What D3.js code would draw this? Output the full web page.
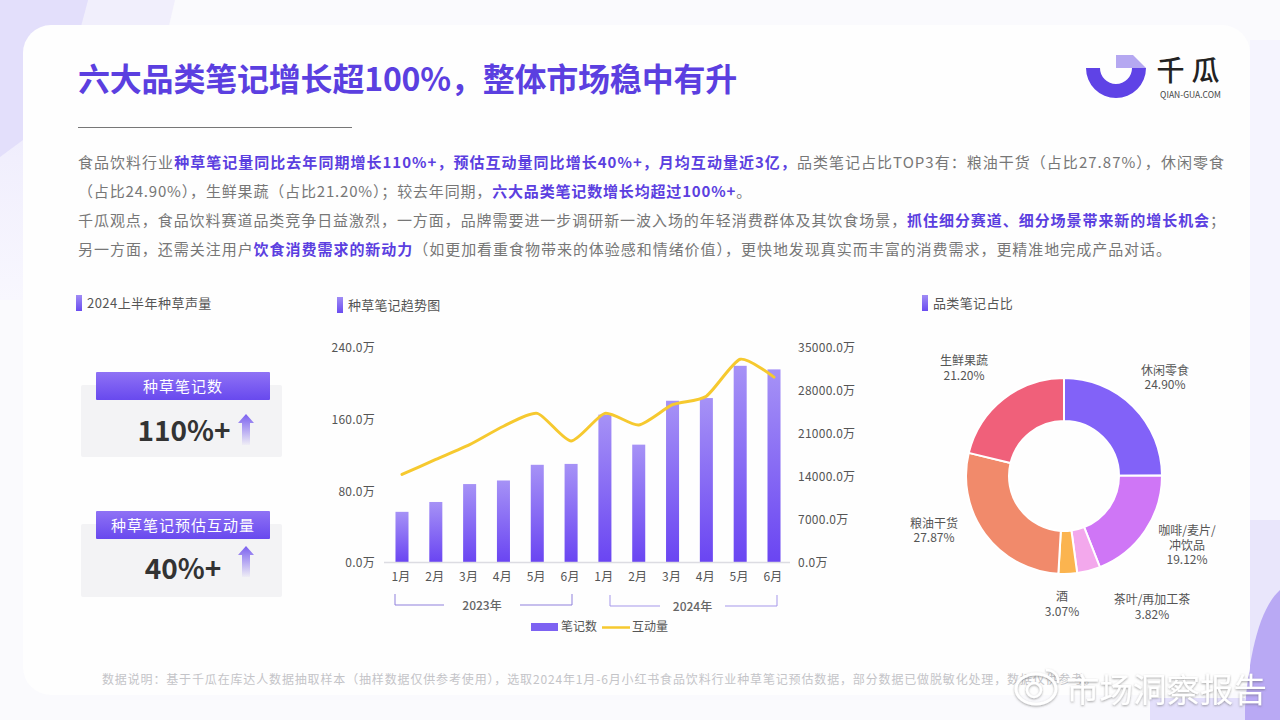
<!DOCTYPE html>
<html>
<head>
<meta charset="utf-8">
<script src="https://cdn.jsdelivr.net/npm/d3@7"></script>
<style>
  html, body { margin: 0; padding: 0; background: #fff; }
  svg { display: block; }
  text { font-family: "Noto Sans CJK SC", "Noto Sans", sans-serif; }
</style>
</head>
<body>
<script>
// chart data
var MONTHS = ['1月', '2月', '3月', '4月', '5月', '6月', '1月', '2月', '3月', '4月', '5月', '6月'];
var NOTES = [56, 67, 87, 91, 108.5, 109.5, 164.5, 131, 180, 183, 219, 215];
var ENGAGEMENT = [14250, 16700, 19100, 22100, 24200, 19700, 24200, 22300, 25600, 27000, 33000, 30100];
var LEFT_TICKS = [0, 80, 160, 240];
var RIGHT_TICKS = [0, 7000, 14000, 21000, 28000, 35000];
var YEARS = ['2023年', '2024年'];

var CATEGORIES = ['休闲零食', '咖啡/麦片/\n冲饮品', '茶叶/再加工茶', '酒', '粮油干货', '生鲜果蔬'];
var SHARES = [24.90, 19.12, 3.82, 3.07, 27.87, 21.20];
var SHARE_COLORS = ['#8262f8', '#cf76f6', '#f3a8ec', '#fbb44f', '#f18a6b', '#f0607a'];

var TITLE = '六大品类笔记增长超100%，整体市场稳中有升';
var BODY = [
  ['食品饮料行业', '*种草笔记量同比去年同期增长110%+，预估互动量同比增长40%+，月均互动量近3亿，', '品类笔记占比TOP3有：粮油干货（占比27.87%），休闲零食'],
  ['（占比24.90%），生鲜果蔬（占比21.20%）；较去年同期，', '*六大品类笔记数增长均超过100%+', '。'],
  ['千瓜观点，食品饮料赛道品类竞争日益激烈，一方面，品牌需要进一步调研新一波入场的年轻消费群体及其饮食场景，', '*抓住细分赛道、细分场景带来新的增长机会', '；'],
  ['另一方面，还需关注用户', '*饮食消费需求的新动力', '（如更加看重食物带来的体验感和情绪价值），更快地发现真实而丰富的消费需求，更精准地完成产品对话。']
];
var BODY_ENDS = [1225, 752, 1226, 1172];
var NOTE = '数据说明：基于千瓜在库达人数据抽取样本（抽样数据仅供参考使用），选取2024年1月-6月小红书食品饮料行业种草笔记预估数据，部分数据已做脱敏化处理，数据仅供参考。';
var KPI_NAMES = ['种草笔记数', '种草笔记预估互动量'];
var KPI_VALUES = ['110%+', '40%+'];

var PURPLE = '#5b3fe0';
var svg = d3.select('body').append('svg').attr('width', 1280).attr('height', 720);
var defs = svg.append('defs');

function vGrad(id, top, bottom, topOpacity, bottomOpacity) {
  var g = defs.append('linearGradient').attr('id', id)
    .attr('x1', 0).attr('y1', 0).attr('x2', 0).attr('y2', 1);
  g.append('stop').attr('offset', 0).attr('stop-color', top).attr('stop-opacity', topOpacity === undefined ? 1 : topOpacity);
  g.append('stop').attr('offset', 1).attr('stop-color', bottom).attr('stop-opacity', bottomOpacity === undefined ? 1 : bottomOpacity);
}
vGrad('barFill', '#a692f6', '#6a45f2');
vGrad('headFill', '#8f72f5', '#6849ee');
vGrad('markFill', '#a08cf5', '#6a4cf0');
vGrad('arrowFill', '#7a5ff0', '#7a5ff0', 1, 0.04);
vGrad('leftFade', '#e9e6fc', '#f8f7fe');

var shadow = defs.append('filter').attr('id', 'wm').attr('x', '-10%').attr('y', '-30%').attr('width', '120%').attr('height', '160%');
shadow.append('feDropShadow').attr('dx', 0).attr('dy', 1).attr('stdDeviation', 1.2)
  .attr('flood-color', '#555').attr('flood-opacity', 0.55);

// page background
svg.append('rect').attr('width', 1280).attr('height', 720).attr('fill', '#fafafd');
svg.append('path').attr('d', 'M0 0H175L168 30H0Z').attr('fill', '#f1effc');
svg.append('path').attr('d', 'M0 0H88L80 30L23 60V300H0Z').attr('fill', 'url(#leftFade)');
svg.append('path').attr('d', 'M0 0H88L80 30L40 110L23 140L0 157Z').attr('fill', '#e3dffb');
svg.append('rect').attr('x', 1250).attr('y', 40).attr('width', 30).attr('height', 480).attr('fill', '#f5f4fe');
svg.append('rect').attr('x', 1250).attr('y', 520).attr('width', 30).attr('height', 200).attr('fill', '#e9e6fb');
svg.append('path').attr('d', 'M1280 590C1258 610 1248 660 1244 720H1280Z').attr('fill', '#b9a9f4');
svg.append('rect').attr('x', 1150).attr('y', 698).attr('width', 95).attr('height', 22).attr('fill', '#e3dffb');

// card
svg.append('rect').attr('x', 23).attr('y', 25).attr('width', 1227).attr('height', 670).attr('rx', 28)
  .attr('fill', '#fefefe');

// header
svg.append('text').attr('x', 78).attr('y', 90.5).attr('font-size', 32).attr('font-weight', 700)
  .attr('letter-spacing', -0.2).attr('fill', PURPLE).text(TITLE);
svg.append('line').attr('x1', 78).attr('x2', 352).attr('y1', 127.5).attr('y2', 127.5)
  .attr('stroke', '#777').attr('stroke-width', 1);

// logo
var logo = svg.append('g').attr('transform', 'translate(1116,68)');
logo.append('path').attr('fill', '#b5a8f1').attr('d', 'M0 -13H17L30 0H0Z');
logo.append('path').attr('fill', '#5f43e6').attr('d', d3.arc()({
  innerRadius: 16, outerRadius: 30, startAngle: Math.PI / 2, endAngle: Math.PI * 1.5
}));
svg.append('text').attr('x', 1191.5).attr('y', 81).attr('text-anchor', 'middle').attr('font-size', 28)
  .attr('font-weight', 500).attr('letter-spacing', 7).attr('fill', '#222').text('千瓜');
svg.append('text').attr('x', 1190.5).attr('y', 98).attr('text-anchor', 'middle').attr('font-size', 8.5)
  .attr('fill', '#444').text('QIAN-GUA.COM');

// body copy, letter spacing is fitted so each line ends where the reference does
BODY.forEach(function(parts, i) {
  var t = svg.append('text').attr('x', 78).attr('y', 167.5 + i * 29).attr('font-size', 15).attr('fill', '#777');
  parts.forEach(function(p) {
    var bold = p.charAt(0) === '*';
    t.append('tspan').attr('font-weight', bold ? 700 : 400).attr('fill', bold ? PURPLE : '#777')
      .text(bold ? p.slice(1) : p);
  });
  var n = parts.join('').replace(/\*/g, '').length;
  var len = t.node().getComputedTextLength();
  t.attr('letter-spacing', (BODY_ENDS[i] - 78 - len) / n);
});

// section titles
function section(x, y, label, spacing) {
  svg.append('rect').attr('x', x).attr('y', y - 8).attr('width', 6).attr('height', 16).attr('fill', 'url(#markFill)');
  svg.append('text').attr('x', x + 11).attr('y', y + 4.5).attr('font-size', 13).attr('letter-spacing', spacing)
    .attr('fill', '#555').text(label);
}
section(76, 303, '2024上半年种草声量', 0.45);
section(337, 305, '种草笔记趋势图', 0.2);
section(922, 303, '品类笔记占比', 0.35);

// kpi cards
var kpiTop = [372, 511];
var kpiBoxH = [72, 73];
KPI_NAMES.forEach(function(name, i) {
  var top = kpiTop[i];
  svg.append('rect').attr('x', 81).attr('y', top + 13).attr('width', 201).attr('height', kpiBoxH[i]).attr('rx', 2).attr('fill', '#f3f3f5');
  svg.append('rect').attr('x', 96).attr('y', top).attr('width', 174).attr('height', 28).attr('rx', 1).attr('fill', 'url(#headFill)');
  svg.append('text').attr('x', 183).attr('y', top + 19.5).attr('text-anchor', 'middle').attr('font-size', 15)
    .attr('letter-spacing', 1).attr('fill', '#fff').text(name);
  svg.append('text').attr('x', i ? 183 : 184).attr('y', top + (i ? 67.5 : 68.5)).attr('text-anchor', 'middle')
    .attr('font-family', '"Noto Sans"').attr('font-size', 28).attr('font-weight', 600).attr('fill', '#333').text(KPI_VALUES[i]);
  var ay = top + (i ? 35 : 42);
  svg.append('path').attr('transform', 'translate(246,' + ay + ')')
    .attr('d', 'M0 0L8 9H4V31H-4V9H-8Z').attr('fill', 'url(#arrowFill)');
});

// combo chart
var x = d3.scaleBand().domain(d3.range(MONTHS.length)).range([385, 791]).paddingInner(0.615).paddingOuter(0.31);
var yLeft = d3.scaleLinear().domain([0, 240]).range([562, 347]);
var yRight = d3.scaleLinear().domain([0, 35000]).range([562, 347]);
var midX = function(i) { return x(i) + x.bandwidth() / 2; };

svg.append('g').selectAll('rect').data(NOTES).join('rect')
  .attr('x', function(d, i) { return x(i); })
  .attr('y', function(d) { return yLeft(d); })
  .attr('width', x.bandwidth())
  .attr('height', function(d) { return yLeft(0) - yLeft(d); })
  .attr('fill', 'url(#barFill)');

svg.append('line').attr('x1', 384).attr('x2', 790).attr('y1', 562.5).attr('y2', 562.5)
  .attr('stroke', '#dcdce2').attr('stroke-width', 1.5);

function styleAxis(g) {
  g.select('.domain').remove();
  g.selectAll('.tick line').remove();
  g.selectAll('text').attr('font-size', 12).attr('fill', '#555').attr('letter-spacing', 0.25)
    .attr('font-family', '"Noto Sans CJK SC", "Noto Sans", sans-serif');
}
var fmtWan = function(d) { return d3.format('.1f')(d) + '万'; };
svg.append('g').attr('transform', 'translate(384,1)')
  .call(d3.axisLeft(yLeft).tickValues(LEFT_TICKS).tickFormat(fmtWan).tickSize(0).tickPadding(9)).call(styleAxis);
svg.append('g').attr('transform', 'translate(790,1)')
  .call(d3.axisRight(yRight).tickValues(RIGHT_TICKS).tickFormat(fmtWan).tickSize(0).tickPadding(8)).call(styleAxis);
svg.append('g').attr('transform', 'translate(-1,562)')
  .call(d3.axisBottom(x).tickFormat(function(i) { return MONTHS[i]; }).tickSize(0).tickPadding(10)).call(styleAxis);

svg.append('path').datum(ENGAGEMENT)
  .attr('fill', 'none').attr('stroke', '#f6c92f').attr('stroke-width', 3).attr('stroke-linecap', 'round')
  .attr('d', d3.line().x(function(d, i) { return midX(i); }).y(function(d) { return yRight(d); })
    .curve(d3.curveCardinal.tension(0.35)));

// year brackets under the months
var bracket = [[395, 444, 520, 572, 594], [610, 660, 725, 777, 595]];
bracket.forEach(function(b, i) {
  var floor = b[4] + 11;
  svg.append('path').attr('fill', 'none').attr('stroke', i ? '#a597ea' : '#8f80dc').attr('stroke-width', 1)
    .attr('d', 'M' + b[0] + ' ' + b[4] + 'V' + floor + 'H' + b[1] + 'M' + b[2] + ' ' + floor + 'H' + b[3] + 'V' + b[4]);
  svg.append('text').attr('x', (b[1] + b[2]) / 2).attr('y', floor + 5).attr('text-anchor', 'middle')
    .attr('font-size', 12).attr('font-weight', 500).attr('fill', '#666').text(YEARS[i]);
});

// legend
svg.append('rect').attr('x', 531).attr('y', 623).attr('width', 27).attr('height', 8).attr('fill', '#7d62f2');
svg.append('text').attr('x', 561).attr('y', 631).attr('font-size', 12).attr('fill', '#555').text('笔记数');
svg.append('line').attr('x1', 602).attr('x2', 630).attr('y1', 627.5).attr('y2', 627.5).attr('stroke', '#f6c92f').attr('stroke-width', 2.5);
svg.append('text').attr('x', 632).attr('y', 631).attr('font-size', 12).attr('fill', '#555').text('互动量');

// donut
var pie = d3.pie().sort(null)(SHARES);
var arc = d3.arc().innerRadius(55).outerRadius(98);
var donut = svg.append('g').attr('transform', 'translate(1064,476)');
donut.selectAll('path').data(pie).join('path')
  .attr('d', arc)
  .attr('fill', function(d, i) { return SHARE_COLORS[i]; })
  .attr('stroke', '#fff').attr('stroke-width', 2);

var labelAt = [[1165, 374.5], [1187, 535], [1152, 604], [1062, 601], [934, 527.5], [964, 365]];
CATEGORIES.forEach(function(c, i) {
  var lines = c.split('\n').concat(d3.format('.2f')(SHARES[i]) + '%');
  var t = svg.append('text').attr('text-anchor', 'middle').attr('font-size', 12).attr('fill', '#555');
  lines.forEach(function(l, k) {
    t.append('tspan').attr('x', labelAt[i][0]).attr('y', labelAt[i][1] + k * 14.5).text(l);
  });
});

// footnote and watermark
svg.append('text').attr('x', 102).attr('y', 684).attr('font-size', 12).attr('letter-spacing', 0.85)
  .attr('fill', '#c4c4c8').text(NOTE);

var wm = svg.append('g').attr('filter', 'url(#wm)');
wm.append('text').attr('x', 1066).attr('y', 702).attr('font-size', 33.5).attr('fill', '#fff').text('市场洞察报告');
wm.append('ellipse').attr('cx', 1036).attr('cy', 689).attr('rx', 20).attr('ry', 15)
  .attr('fill', 'none').attr('stroke', '#fff').attr('stroke-width', 3);
wm.append('circle').attr('cx', 1034).attr('cy', 690).attr('r', 7)
  .attr('fill', 'none').attr('stroke', '#fff').attr('stroke-width', 2.5);
wm.append('path').attr('d', 'M1046 670C1054 670 1059 676 1058 683').attr('fill', 'none').attr('stroke', '#fff').attr('stroke-width', 2.5);
</script>
</body>
</html>
